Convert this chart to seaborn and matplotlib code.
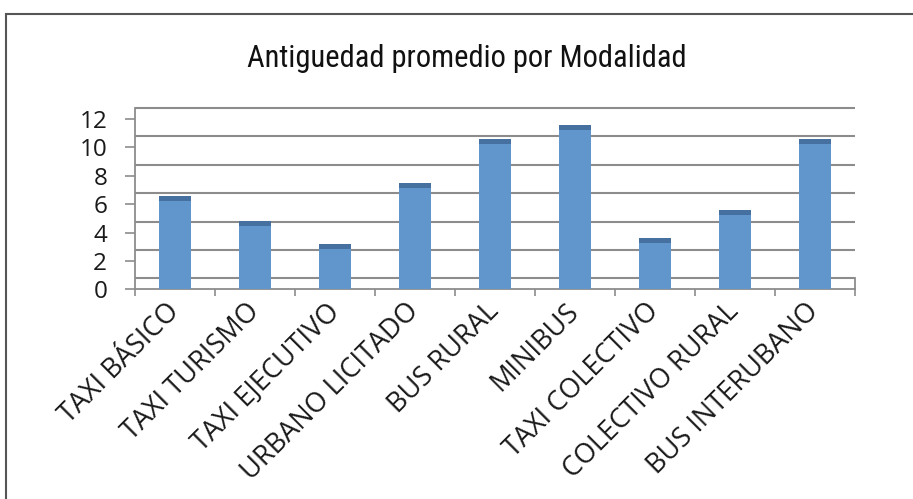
import numpy as np
import matplotlib
matplotlib.use("Agg")
import matplotlib.pyplot as plt
import matplotlib.transforms as mtransforms
from matplotlib import font_manager
from matplotlib.patches import Rectangle
import seaborn as sns

# datos
categorias = ["TAXI BÁSICO", "TAXI TURISMO", "TAXI EJECUTIVO", "URBANO LICITADO",
              "BUS RURAL", "MINIBUS", "TAXI COLECTIVO", "COLECTIVO RURAL",
              "BUS INTERUBANO"]
antiguedad = [6.6, 4.8, 3.2, 7.5, 10.6, 11.6, 3.6, 5.6, 10.6]
yticks = [0, 2, 4, 6, 8, 10, 12]
titulo = "Antiguedad promedio por Modalidad"

sns.set_theme(style="white")
plt.rcParams["font.family"] = ["Open Sans", "DejaVu Sans"]

# fuente angosta para el titulo, si hay alguna
instaladas = {f.name for f in font_manager.fontManager.ttflist}
angostas = ["Liberation Sans Narrow", "DejaVu Sans Condensed", "Roboto Condensed",
            "Open Sans Condensed", "Noto Sans Condensed", "Roboto"]
fuente_titulo = next((f for f in angostas if f in instaladas), "DejaVu Sans")

azul = "#6096CC"
tapa = "#45709F"
gris = "#8C8C8C"
prof = 0.78  # profundidad del "3D" en unidades del eje

fig = plt.figure(figsize=(9.13, 4.99), dpi=100)
ax = fig.add_axes([135 / 913, 1 - 289.3 / 499, 720 / 913, (289.3 - 108) / 499])

# marco exterior
fig.patches.append(Rectangle((6 / 913, -0.1), 1.2, 0.1 + 1 - 14 / 499,
                             transform=fig.transFigure, fill=False,
                             edgecolor="#555555", lw=1.5))

# lineas de la pared del fondo, desplazadas hacia arriba
offset = mtransforms.ScaledTranslation(0, 11 / 100, fig.dpi_scale_trans)
ax.hlines(yticks, 0, 1, transform=ax.get_yaxis_transform() + offset,
          colors=gris, lw=1.5, zorder=0, clip_on=False)

cuerpo = [v - 0.35 for v in antiguedad]
sns.barplot(x=categorias, y=antiguedad, color=tapa, width=0.4, saturation=1,
            linewidth=0, ax=ax, zorder=2)
sns.barplot(x=categorias, y=cuerpo, color=azul, width=0.4, saturation=1,
            linewidth=0, ax=ax, zorder=3)

ax.set_ylim(0, 12 + prof)
ax.set_xlim(-0.5, len(categorias) - 0.5)
ax.set_yticks(yticks)
ax.set_yticklabels([str(t) for t in yticks], fontsize=17.5, color="#1a1a1a")

ax.spines["top"].set_visible(False)
for s in ["left", "bottom", "right"]:
    ax.spines[s].set_color(gris)
    ax.spines[s].set_linewidth(1.3)
ax.spines["right"].set_bounds(0, prof)

ax.tick_params(axis="y", which="major", left=True, length=7, width=1.2, color=gris, pad=13)
ax.set_xticks(np.arange(-0.5, len(categorias), 1), minor=True)
ax.tick_params(axis="x", which="minor", bottom=True, length=5, width=1.2, color=gris, direction="out")
ax.tick_params(axis="x", which="major", length=0, pad=13)
ax.set_xticks(range(len(categorias)))
ax.set_xticklabels(categorias, rotation=45, ha="right", va="center",
                   rotation_mode="anchor", fontsize=19.5, color="#1a1a1a")
ax.set_xlabel("")
ax.set_ylabel("")

fig.text(467 / 913, 1 - 67 / 499, titulo, ha="center", va="baseline", fontsize=22,
         family=[fuente_titulo, "DejaVu Sans"], color="#111111")

fig.savefig("out.png", dpi=100)
